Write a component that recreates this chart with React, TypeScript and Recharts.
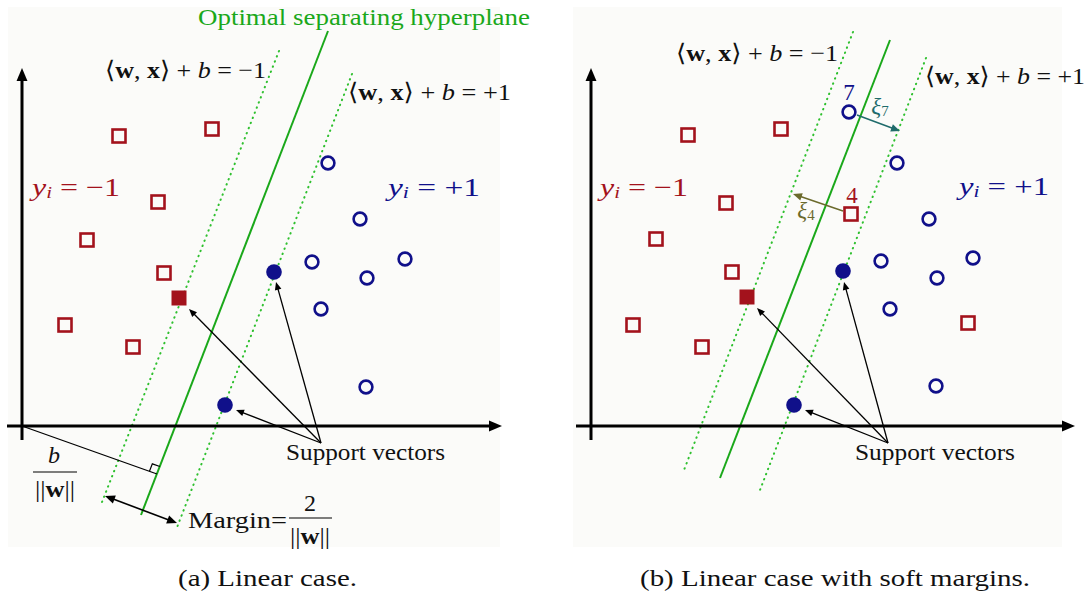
import React from 'react';
import {
  ReferenceArea,
  ReferenceDot,
  ReferenceLine,
  Scatter,
  ScatterChart,
  XAxis,
  YAxis,
} from 'recharts';

const RED = '#a3121c';
const BLUE = '#10108a';
const GREEN = '#1aa81a';
const DOT_GREEN = '#2fc02f';
const TEAL = '#1f6b6b';
const OLIVE = '#6b6a2c';
const PANEL_BG = '#fbfbf9';
const FONT = '"Liberation Serif", "DejaVu Serif", serif';

type Pt = { x: number; y: number };

// Diagram units: one unit per pixel, origin where the two axes cross, y up.

// (a) linear case
const aNegOpen: Pt[] = [
  { x: 97, y: 290 }, { x: 190, y: 297 }, { x: 136, y: 224 }, { x: 65, y: 186 },
  { x: 142, y: 153 }, { x: 43, y: 101 }, { x: 111, y: 79 },
];
const aNegSupport: Pt[] = [{ x: 157, y: 128 }];
const aPosOpen: Pt[] = [
  { x: 306, y: 263 }, { x: 338, y: 207 }, { x: 290, y: 164 }, { x: 383, y: 167 },
  { x: 345, y: 148 }, { x: 299, y: 117 }, { x: 344, y: 39 },
];
const aPosSupport: Pt[] = [{ x: 252, y: 154 }, { x: 203, y: 21 }];
const aHyperplane: Pt[] = [{ x: 306, y: 395 }, { x: 119, y: -89 }];
const aMarginNeg: Pt[] = [{ x: 257, y: 375 }, { x: 80, y: -76 }];
const aMarginPos: Pt[] = [{ x: 330, y: 352 }, { x: 154, y: -104 }];
const aSupportHub: Pt = { x: 299, y: -17 };
const aSupportTips: Pt[] = [{ x: 167, y: 117 }, { x: 254, y: 144 }, { x: 214, y: 16 }];
const aOffsetLine: Pt[] = [{ x: 0, y: 0 }, { x: 135, y: -48 }];
const aMarginArrow: Pt[] = [{ x: 83, y: -70 }, { x: 155, y: -97 }];

// (b) soft margins
const bNegOpen: Pt[] = [
  { x: 97, y: 291 }, { x: 190, y: 297 }, { x: 135, y: 223 }, { x: 65, y: 187 },
  { x: 141, y: 154 }, { x: 42, y: 101 }, { x: 111, y: 79 }, { x: 260, y: 212 },
  { x: 377, y: 103 },
];
const bNegSupport: Pt[] = [{ x: 156, y: 129 }];
const bPosOpen: Pt[] = [
  { x: 258, y: 314 }, { x: 306, y: 263 }, { x: 338, y: 207 }, { x: 290, y: 165 },
  { x: 382, y: 168 }, { x: 346, y: 148 }, { x: 299, y: 117 }, { x: 345, y: 40 },
];
const bPosSupport: Pt[] = [{ x: 252, y: 155 }, { x: 203, y: 21 }];
const bHyperplane: Pt[] = [{ x: 299, y: 386 }, { x: 129, y: -52 }];
const bMarginNeg: Pt[] = [{ x: 262, y: 394 }, { x: 93, y: -44 }];
const bMarginPos: Pt[] = [{ x: 335, y: 368 }, { x: 169, y: -64 }];
const bSupportHub: Pt = { x: 297, y: -17 };
const bSupportTips: Pt[] = [{ x: 166, y: 118 }, { x: 253, y: 144 }, { x: 214, y: 16 }];
const bSlack7: Pt[] = [{ x: 266, y: 311 }, { x: 309, y: 295 }];
const bSlack4: Pt[] = [{ x: 252, y: 215 }, { x: 202, y: 232 }];

const openSquare = (p: any) => (
  <rect x={p.cx - 6.5} y={p.cy - 6.5} width={13} height={13} fill="none" stroke={RED} strokeWidth={2.6} />
);
const filledSquare = (p: any) => (
  <rect x={p.cx - 7.5} y={p.cy - 7.5} width={15} height={15} fill={RED} />
);
const openCircle = (p: any) => (
  <circle cx={p.cx} cy={p.cy} r={6.4} fill="none" stroke={BLUE} strokeWidth={2.6} />
);
const filledCircle = (p: any) => <circle cx={p.cx} cy={p.cy} r={7.8} fill={BLUE} />;

interface SegStyle {
  color: string;
  width: number;
  head?: number;
  both?: boolean;
  dash?: string;
  rightAngle?: boolean;
}

// draws a segment with optional arrow heads and a right-angle tick at its end
function segShape(s: SegStyle) {
  return (p: any) => {
    const { x1, y1, x2, y2 } = p;
    const len = Math.hypot(x2 - x1, y2 - y1) || 1;
    const ux = (x2 - x1) / len;
    const uy = (y2 - y1) / len;
    const h = s.head ?? 0;
    const hw = h * 0.42;
    const head = (tx: number, ty: number, dx: number, dy: number) => {
      const bx = tx - dx * h;
      const by = ty - dy * h;
      return `${tx},${ty} ${bx - dy * hw},${by + dx * hw} ${bx + dy * hw},${by - dx * hw}`;
    };
    const sx = s.both && h ? x1 + ux * h * 0.8 : x1;
    const sy = s.both && h ? y1 + uy * h * 0.8 : y1;
    const ex = h ? x2 - ux * h * 0.8 : x2;
    const ey = h ? y2 - uy * h * 0.8 : y2;
    let tick = null;
    if (s.rightAngle) {
      // small square between the segment and the hyperplane (direction up the plane)
      const vx = 0.36;
      const vy = -0.933;
      const k = 8;
      tick = (
        <polyline
          points={`${x2 - ux * k},${y2 - uy * k} ${x2 - ux * k + vx * k},${y2 - uy * k + vy * k} ${x2 + vx * k},${y2 + vy * k}`}
          fill="none"
          stroke={s.color}
          strokeWidth={1.2}
        />
      );
    }
    return (
      <g>
        <line
          x1={sx}
          y1={sy}
          x2={ex}
          y2={ey}
          stroke={s.color}
          strokeWidth={s.width}
          strokeDasharray={s.dash}
          strokeLinecap={s.dash ? 'round' : 'butt'}
        />
        {h ? <polygon points={head(x2, y2, ux, uy)} fill={s.color} /> : null}
        {h && s.both ? <polygon points={head(x1, y1, -ux, -uy)} fill={s.color} /> : null}
        {tick}
      </g>
    );
  };
}

const seg = (key: string, pts: Pt[], s: SegStyle) => (
  <ReferenceLine
    key={key}
    segment={[pts[0], pts[1]]}
    ifOverflow="visible"
    shape={segShape(s)}
  />
);

interface TextStyle {
  size: number;
  color?: string;
  w?: number;
  anchor?: 'start' | 'middle' | 'end';
}

const label = (key: string, at: Pt, content: React.ReactNode, t: TextStyle) => (
  <ReferenceDot
    key={key}
    x={at.x}
    y={at.y}
    r={0}
    ifOverflow="visible"
    shape={(p: any) => (
      <text
        x={p.cx}
        y={p.cy}
        textAnchor={t.anchor ?? 'middle'}
        dominantBaseline="central"
        fontFamily={FONT}
        fontSize={t.size}
        fill={t.color ?? '#111'}
        textLength={t.w}
        lengthAdjust={t.w ? 'spacingAndGlyphs' : undefined}
      >
        {content}
      </text>
    )}
  />
);

const formula = (sign: string) => (
  <>
    <tspan>⟨</tspan>
    <tspan fontWeight="bold">w</tspan>
    <tspan>, </tspan>
    <tspan fontWeight="bold">x</tspan>
    <tspan>⟩ + </tspan>
    <tspan fontStyle="italic">b</tspan>
    <tspan> = {sign}1</tspan>
  </>
);

const classLabel = (sign: string) => (
  <>
    <tspan fontStyle="italic">y</tspan>
    <tspan fontStyle="italic" fontSize={17} dy={5}>i</tspan>
    <tspan dy={-5}> = {sign}1</tspan>
  </>
);

const slackLabel = (n: string) => (
  <>
    <tspan fontStyle="italic">ξ</tspan>
    <tspan fontSize={15} dy={5}>{n}</tspan>
  </>
);

const normW = (
  <>
    <tspan>||</tspan>
    <tspan fontWeight="bold">w</tspan>
    <tspan>||</tspan>
  </>
);

const common = (hub: Pt, tips: Pt[], xEnd: number, prefix: string) => [
  seg(`${prefix}-yax`, [{ x: 0, y: -14 }, { x: 0, y: 358 }], { color: '#000', width: 3, head: 13 }),
  seg(`${prefix}-xax`, [{ x: -15, y: 0 }, { x: xEnd, y: 0 }], { color: '#000', width: 3, head: 13 }),
  ...tips.map((t, i) => seg(`${prefix}-sv${i}`, [hub, t], { color: '#000', width: 1.3, head: 8 })),
];

const planes = (hyper: Pt[], neg: Pt[], pos: Pt[], prefix: string) => [
  seg(`${prefix}-neg`, neg, { color: DOT_GREEN, width: 2, dash: '0.5 5' }),
  seg(`${prefix}-pos`, pos, { color: DOT_GREEN, width: 2, dash: '0.5 5' }),
  seg(`${prefix}-hyp`, hyper, { color: GREEN, width: 2 }),
];

const points = (negOpen: Pt[], negSv: Pt[], posOpen: Pt[], posSv: Pt[]) => [
  <Scatter key="no" data={negOpen} shape={openSquare} isAnimationActive={false} />,
  <Scatter key="ns" data={negSv} shape={filledSquare} isAnimationActive={false} />,
  <Scatter key="po" data={posOpen} shape={openCircle} isAnimationActive={false} />,
  <Scatter key="ps" data={posSv} shape={filledCircle} isAnimationActive={false} />,
];

function PanelA() {
  return (
    <ScatterChart width={545} height={595} margin={{ top: 0, right: 0, bottom: 0, left: 0 }}>
      <XAxis type="number" dataKey="x" domain={[-22, 523]} hide />
      <YAxis type="number" dataKey="y" domain={[-169, 426]} hide />
      <ReferenceArea x1={-14} x2={478} y1={-121} y2={419} fill={PANEL_BG} fillOpacity={1} stroke="none" ifOverflow="visible" />
      {planes(aHyperplane, aMarginNeg, aMarginPos, 'a')}
      {common(aSupportHub, aSupportTips, 480, 'a')}
      {seg('a-off', aOffsetLine, { color: '#000', width: 1.2, rightAngle: true })}
      {seg('a-marg', aMarginArrow, { color: '#000', width: 1.6, head: 10, both: true })}
      {seg('a-frac1', [{ x: 11, y: -46 }, { x: 55, y: -46 }], { color: '#000', width: 1.1 })}
      {seg('a-frac2', [{ x: 267, y: -92 }, { x: 310, y: -92 }], { color: '#000', width: 1.1 })}
      {points(aNegOpen, aNegSupport, aPosOpen, aPosSupport)}
      {label('a-title', { x: 342, y: 409 }, 'Optimal separating hyperplane', { size: 23, color: GREEN, w: 332 })}
      {label('a-f1', { x: 163.5, y: 356 }, formula('−'), { size: 24, w: 161 })}
      {label('a-f2', { x: 407.5, y: 334 }, formula('+'), { size: 24, w: 163 })}
      {label('a-yn', { x: 54, y: 239 }, classLabel('−'), { size: 26, color: RED, w: 88 })}
      {label('a-yp', { x: 412, y: 239 }, classLabel('+'), { size: 26, color: BLUE, w: 92 })}
      {label('a-sv', { x: 343.5, y: -26 }, 'Support vectors', { size: 23, w: 159 })}
      {label('a-b', { x: 32, y: -29 }, <tspan fontStyle="italic">b</tspan>, { size: 24 })}
      {label('a-w1', { x: 33, y: -63 }, normW, { size: 24, w: 40 })}
      {label('a-m', { x: 215.5, y: -94 }, 'Margin=', { size: 24, w: 99 })}
      {label('a-2', { x: 288, y: -77 }, '2', { size: 24 })}
      {label('a-w2', { x: 288, y: -110 }, normW, { size: 24, w: 40 })}
      {label('a-cap', { x: 245.5, y: -152 }, '(a) Linear case.', { size: 23, w: 179 })}
    </ScatterChart>
  );
}

function PanelB() {
  return (
    <ScatterChart width={544} height={595} margin={{ top: 0, right: 0, bottom: 0, left: 0 }}>
      <XAxis type="number" dataKey="x" domain={[-46, 498]} hide />
      <YAxis type="number" dataKey="y" domain={[-169, 426]} hide />
      <ReferenceArea x1={-18} x2={471} y1={-121} y2={419} fill={PANEL_BG} fillOpacity={1} stroke="none" ifOverflow="visible" />
      {planes(bHyperplane, bMarginNeg, bMarginPos, 'b')}
      {common(bSupportHub, bSupportTips, 484, 'b')}
      {seg('b-xi7', bSlack7, { color: TEAL, width: 1.5, head: 9 })}
      {seg('b-xi4', bSlack4, { color: OLIVE, width: 1.5, head: 9 })}
      {points(bNegOpen, bNegSupport, bPosOpen, bPosSupport)}
      {label('b-f1', { x: 166, y: 373 }, formula('−'), { size: 24, w: 162 })}
      {label('b-f2', { x: 414, y: 350 }, formula('+'), { size: 24, w: 160 })}
      {label('b-yn', { x: 53, y: 239 }, classLabel('−'), { size: 26, color: RED, w: 88 })}
      {label('b-yp', { x: 413, y: 240 }, classLabel('+'), { size: 26, color: BLUE, w: 90 })}
      {label('b-7', { x: 258, y: 334 }, '7', { size: 23, color: BLUE })}
      {label('b-4', { x: 261, y: 231 }, '4', { size: 23, color: RED })}
      {label('b-x7', { x: 289, y: 320 }, slackLabel('7'), { size: 23, color: TEAL })}
      {label('b-x4', { x: 215, y: 216 }, slackLabel('4'), { size: 23, color: OLIVE })}
      {label('b-sv', { x: 344, y: -26 }, 'Support vectors', { size: 23, w: 160 })}
      {label('b-cap', { x: 244, y: -152 }, '(b) Linear case with soft margins.', { size: 23, w: 390 })}
    </ScatterChart>
  );
}

export default function App() {
  return (
    <div style={{ position: 'absolute', left: 0, top: 0, width: 1089, height: 595, background: '#fff' }}>
      <div style={{ position: 'absolute', left: 0, top: 0 }}>
        <PanelA />
      </div>
      <div style={{ position: 'absolute', left: 545, top: 0 }}>
        <PanelB />
      </div>
    </div>
  );
}
